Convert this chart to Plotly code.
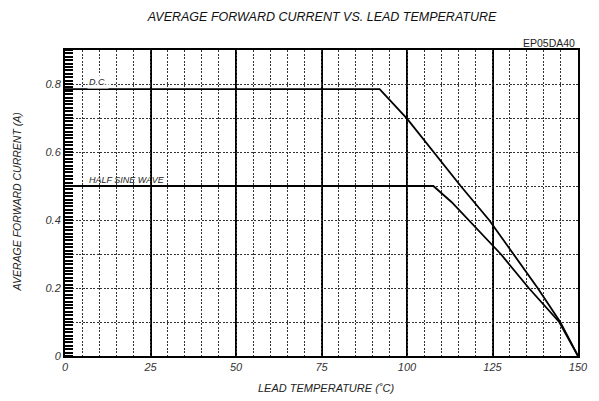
import plotly.graph_objects as go

# Data
dc_temp = [0, 92, 100, 107.7, 115.7, 124.0, 131.2, 138.2, 144.8, 150]
dc_current = [0.785, 0.785, 0.698, 0.6, 0.5, 0.4, 0.3, 0.2, 0.1, 0.0]
hs_temp = [0, 107.7, 113, 118, 125, 127.4, 135.6, 144.5, 150]
hs_current = [0.5, 0.5, 0.453, 0.4, 0.326, 0.3, 0.2, 0.1, 0.0]

x_ticks = [0, 25, 50, 75, 100, 125, 150]
y_ticks = [0, 0.2, 0.4, 0.6, 0.8]
y_tick_text = ["0", "0.2", "0.4", "0.6", "0.8"]

font_main = "Liberation Sans, Arial, sans-serif"

# page has an 8px body margin, so the figure is sized to fit the window
W, H = 591, 393

fig = go.Figure()
fig.add_trace(go.Scatter(x=dc_temp, y=dc_current, mode="lines",
                         line=dict(color="black", width=1.8), showlegend=False))
fig.add_trace(go.Scatter(x=hs_temp, y=hs_current, mode="lines",
                         line=dict(color="black", width=1.8), showlegend=False))
# invisible trace to activate secondary grid axes
fig.add_trace(go.Scatter(x=[0], y=[0], xaxis="x2", yaxis="y2", mode="markers",
                         marker=dict(opacity=0), showlegend=False, hoverinfo="skip"))

fig.update_layout(
    width=W, height=H,
    margin=dict(l=57, r=21, t=42, b=45),
    paper_bgcolor="white", plot_bgcolor="white",
    font=dict(family=font_main, color="#222"),
    title=dict(text="<i>AVERAGE FORWARD CURRENT VS. LEAD TEMPERATURE</i>",
               x=314 / W, xanchor="center", y=1 - 9 / H, yanchor="middle",
               font=dict(size=12.5, color="#111")),
    xaxis=dict(range=[0, 150], tickvals=x_ticks,
               ticktext=[f"<i>{v}</i>" for v in x_ticks],
               showgrid=True, gridcolor="black", gridwidth=2,
               showline=True, linecolor="black", linewidth=2, mirror=True,
               ticks="", zeroline=False, automargin=False,
               tickfont=dict(size=11, color="#333")),
    yaxis=dict(range=[0, 0.9], tickvals=y_ticks,
               ticktext=[f"<i>{t}</i>" for t in y_tick_text],
               showgrid=False,
               showline=True, linecolor="black", linewidth=2, mirror=True,
               ticks="", zeroline=False, automargin=False,
               minor=dict(ticks="inside", dtick=0.01, tick0=0, ticklen=8,
                          tickwidth=1.5, tickcolor="black", showgrid=False),
               tickfont=dict(size=11, color="#333")),
    xaxis2=dict(range=[0, 150], dtick=5, tick0=0, overlaying="x", showticklabels=False,
                showgrid=True, gridcolor="#333", gridwidth=1, griddash="2px,1.5px",
                ticks="", zeroline=False, showline=False, automargin=False),
    yaxis2=dict(range=[0, 0.9], dtick=0.1, tick0=0, overlaying="y", showticklabels=False,
                showgrid=True, gridcolor="#333", gridwidth=1, griddash="2px,1.5px",
                ticks="", zeroline=False, showline=False, automargin=False),
    annotations=[
        dict(text="<i>D.C.</i>", x=6.3, y=0.805, xref="x", yref="y", xanchor="left",
             yanchor="middle", showarrow=False, font=dict(size=9, color="#222"),
             bgcolor="white", borderpad=1),
        dict(text="<i>HALF SINE WAVE</i>", x=6.3, y=0.518, xref="x", yref="y",
             xanchor="left", yanchor="middle", showarrow=False,
             font=dict(size=9, color="#222")),
        dict(text="EP05DA40", x=1.0, y=1.0, xref="paper", yref="paper",
             xanchor="right", yanchor="middle", yshift=7, xshift=-1, showarrow=False,
             font=dict(size=10.5, color="#222")),
        dict(text="<i>LEAD TEMPERATURE (˚C)</i>", x=(326 - 65) / 513, y=0,
             xref="paper", yref="paper", xanchor="center", yanchor="middle",
             yshift=-32, showarrow=False, font=dict(size=11, color="#222")),
        dict(text="<i>AVERAGE FORWARD CURRENT (A)</i>", x=0, y=(356 - 201.7) / 306,
             xref="paper", yref="paper", xanchor="center", yanchor="middle",
             xshift=-48.3, textangle=-90, showarrow=False,
             font=dict(size=10.5, color="#222")),
    ],
)

fig.write_html("out.html")
